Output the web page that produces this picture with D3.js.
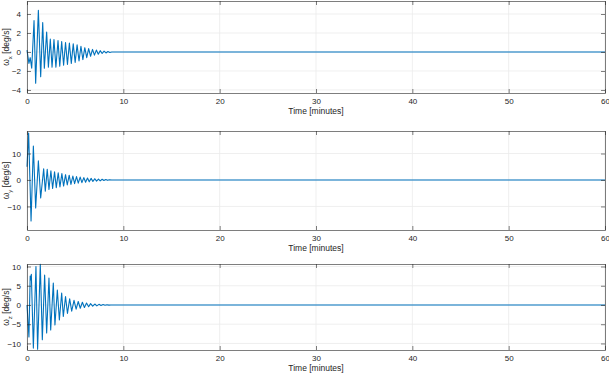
<!DOCTYPE html>
<html>
<head>
<meta charset="utf-8">
<script src="https://cdn.jsdelivr.net/npm/d3@7"></script>
<style>
  body { margin: 0; background: #fff; }
  text { font-family: "Liberation Sans", Arial, sans-serif; fill: #262626; }
</style>
</head>
<body>
<div id="chart"></div>
<script>
// extrema (minutes, deg/s)
var tX = [0, 0.2, 0.33, 0.49, 0.73, 0.9, 1.18, 1.42, 1.63, 1.8, 2.04, 2.22, 2.42, 2.6, 2.8, 3.0, 3.22, 3.4, 3.6, 3.8, 4.0, 4.2, 4.4, 4.6, 4.8, 5.0, 5.2, 5.4, 5.6, 5.8, 6.0, 6.2, 6.4, 6.6, 6.8, 7.0, 7.2, 7.4, 7.6, 7.8, 8.0, 8.2, 8.4, 8.6, 8.8, 60];
var wX = [0.2, -1.2, -0.6, -1.7, 3.3, -3.3, 4.4, -2.6, 3.1, -1.7, 2.1, -1.6, 1.35, -1.6, 1.3, -1.6, 1.2, -1.5, 1.1, -1.4, 1.0, -1.3, 0.95, -1.2, 0.85, -1.1, 0.75, -0.95, 0.6, -0.8, 0.45, -0.6, 0.35, -0.45, 0.27, -0.33, 0.2, -0.24, 0.14, -0.16, 0.09, -0.1, 0.05, -0.05, 0, 0];

var tY = [0, 0.17, 0.42, 0.66, 0.9, 1.18, 1.42, 1.73, 1.9, 2.1, 2.28, 2.48, 2.66, 2.86, 3.04, 3.24, 3.42, 3.62, 3.8, 4.0, 4.18, 4.38, 4.56, 4.76, 4.94, 5.14, 5.32, 5.52, 5.7, 5.9, 6.08, 6.28, 6.46, 6.66, 6.84, 7.04, 7.22, 7.42, 7.6, 7.8, 7.98, 8.18, 8.36, 8.56, 8.8, 60];
var wY = [5, 17.7, -15.5, 12.8, -10.6, 7.2, -6.8, 4.2, -4.2, 4.0, -3.6, 3.5, -3.2, 3.1, -2.9, 2.7, -2.6, 2.4, -2.3, 2.0, -1.9, 1.8, -1.7, 1.5, -1.4, 1.3, -1.2, 1.1, -1.0, 0.9, -0.85, 0.75, -0.7, 0.6, -0.55, 0.48, -0.42, 0.36, -0.32, 0.26, -0.22, 0.17, -0.14, 0.1, 0, 0];

var tZ = [0, 0.2, 0.33, 0.38, 0.45, 0.66, 0.93, 1.1, 1.38, 1.59, 1.83, 2.04, 2.28, 2.46, 2.73, 2.9, 3.15, 3.36, 3.6, 3.77, 4.0, 4.2, 4.43, 4.64, 4.88, 5.1, 5.32, 5.53, 5.75, 5.96, 6.18, 6.4, 6.6, 6.82, 7.04, 7.25, 7.47, 7.68, 7.9, 8.1, 8.3, 8.5, 8.7, 60];
var wZ = [0, -8.3, 7.5, 6.5, 8.0, -11.2, 10.0, -11.5, 10.6, -9.0, 7.8, -7.3, 7.0, -6.5, 5.7, -5.2, 3.9, -3.9, 3.1, -3.0, 2.2, -2.2, 1.6, -1.6, 1.2, -1.1, 0.9, -0.85, 0.7, -0.65, 0.5, -0.45, 0.35, -0.32, 0.25, -0.22, 0.17, -0.15, 0.1, -0.08, 0.05, -0.03, 0, 0];

var xTicks = [0, 10, 20, 30, 40, 50, 60];
var yTicksX = [-4, -2, 0, 2, 4];
var yTicksY = [-10, 0, 10];
var yTicksZ = [-10, -5, 0, 5, 10];
var xLabel = "Time [minutes]";

var width = 609, height = 376;
var left = 27, right = 605;

var panels = [
    { t: tX, v: wX, ticks: yTicksX, sub: "x", top: 1, bottom: 93, ylim: [-4.32, 5.37] },
    { t: tY, v: wY, ticks: yTicksY, sub: "y", top: 131, bottom: 230, ylim: [-18.9, 18.5] },
    { t: tZ, v: wZ, ticks: yTicksZ, sub: "z", top: 264, bottom: 350, ylim: [-11.7, 10.65] }
];

var svg = d3.select("#chart").append("svg")
    .attr("width", width)
    .attr("height", height);

var x = d3.scaleLinear().domain([0, 60]).range([left, right]);
var axisColor = "#262626";

panels.forEach(function (p, i) {
    var y = d3.scaleLinear().domain(p.ylim).range([p.bottom, p.top]);
    var g = svg.append("g");

    // grid
    g.selectAll(".gx").data(xTicks).enter().append("line")
        .attr("x1", function (d) { return x(d); }).attr("x2", function (d) { return x(d); })
        .attr("y1", p.top).attr("y2", p.bottom)
        .attr("stroke", "#ebebeb").attr("stroke-width", 0.8);
    g.selectAll(".gy").data(p.ticks).enter().append("line")
        .attr("x1", left).attr("x2", right)
        .attr("y1", function (d) { return y(d); }).attr("y2", function (d) { return y(d); })
        .attr("stroke", "#ebebeb").attr("stroke-width", 0.8);

    // data
    var line = d3.line()
        .x(function (d, k) { return x(p.t[k]); })
        .y(function (d) { return y(d); });
    g.append("path")
        .datum(p.v)
        .attr("d", line)
        .attr("fill", "none")
        .attr("stroke", "#0072BD")
        .attr("stroke-width", 1.1)
        .attr("stroke-linejoin", "round");

    // axes
    var xb = g.append("g").attr("transform", "translate(0," + p.bottom + ")")
        .call(d3.axisBottom(x).tickValues(xTicks).tickSizeInner(-4).tickSizeOuter(0).tickPadding(5));
    var xt = g.append("g").attr("transform", "translate(0," + p.top + ")")
        .call(d3.axisTop(x).tickValues(xTicks).tickSizeInner(-4).tickSizeOuter(0).tickFormat(""));
    var yl = g.append("g").attr("transform", "translate(" + left + ",0)")
        .call(d3.axisLeft(y).tickValues(p.ticks).tickSizeInner(-4).tickSizeOuter(0).tickPadding(6));
    var yr = g.append("g").attr("transform", "translate(" + right + ",0)")
        .call(d3.axisRight(y).tickValues(p.ticks).tickSizeInner(-4).tickSizeOuter(0).tickFormat(""));

    [xb, xt, yl, yr].forEach(function (a) {
        a.select(".domain").attr("stroke", axisColor).attr("stroke-width", 0.6);
        a.selectAll(".tick line").attr("stroke", axisColor).attr("stroke-width", 0.6);
        a.selectAll(".tick text")
            .attr("fill", axisColor)
            .style("font-family", "'Liberation Sans', Arial, sans-serif")
            .style("font-size", "8px");
    });

    // x label
    g.append("text")
        .attr("x", (left + right) / 2)
        .attr("y", p.bottom + 21)
        .attr("text-anchor", "middle")
        .style("font-size", "8.5px")
        .text(xLabel);

    // y label with subscript
    var yt = g.append("text")
        .attr("transform", "translate(9," + ((p.top + p.bottom) / 2) + ") rotate(-90)")
        .attr("text-anchor", "middle")
        .style("font-size", "8.5px");
    yt.append("tspan").text("\u03c9");
    yt.append("tspan").attr("dy", 2.5).style("font-size", "6px").text(p.sub);
    yt.append("tspan").attr("dy", -2.5).text(" [deg/s]");
});
</script>
</body>
</html>
